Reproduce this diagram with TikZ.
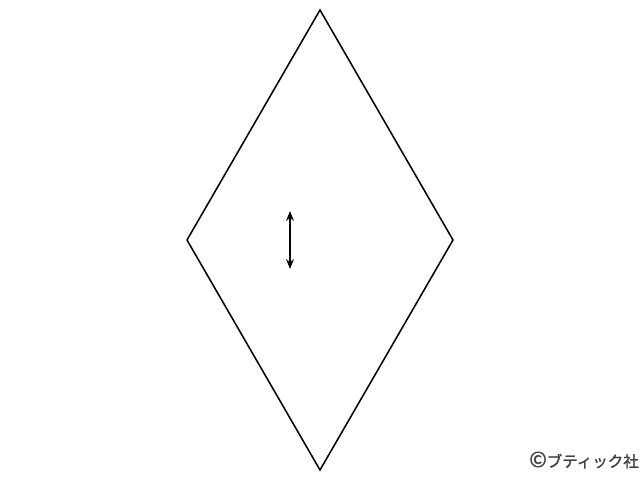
\documentclass[tikz,border=0pt]{standalone}
\usepackage{fontspec}
\newfontfamily\jpfont[FakeBold=1.5]{Noto Sans CJK JP}
\usetikzlibrary{backgrounds,arrows.meta}
\tikzset{grainhead/.style={{Stealth[length=7pt,width=5.5pt]}-{Stealth[length=7pt,width=5.5pt]}}}
\begin{document}
\begin{tikzpicture}[x=0.025cm,y=-0.025cm]
\useasboundingbox (0,0) rectangle (640,480);
%diamond
\coordinate (top) at (320,10);
\coordinate (left) at (187,240);
\coordinate (bottom) at (320,470);
\coordinate (right) at (453,240);
\draw[line width=1.1pt,line join=miter] (top) -- (left) -- (bottom) -- (right) -- cycle;
%grain
\coordinate (grainup) at (290,211);
\coordinate (graindown) at (290,269);
\draw[grainhead,line width=1pt] (grainup) -- (graindown);
%copyright
\node[text=black!75,font=\jpfont\fontsize{11}{12}\selectfont,inner sep=0pt] (credit) at (584,460) {{\fontsize{15}{15}\selectfont ©}ブティック社};
\end{tikzpicture}
\end{document}
